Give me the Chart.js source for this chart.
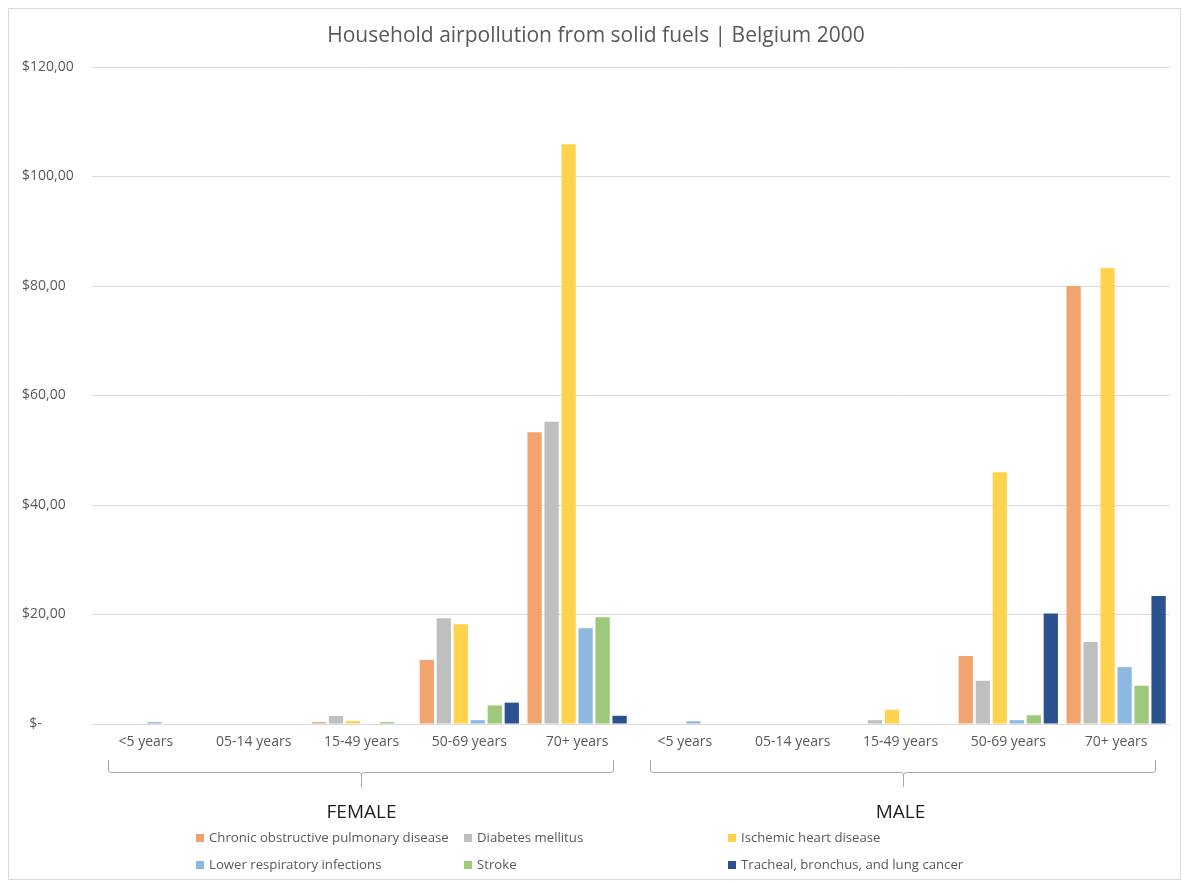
<!DOCTYPE html>
<html>
<head>
<meta charset="utf-8">
<title>Household airpollution from solid fuels | Belgium 2000</title>
<script src="https://cdn.jsdelivr.net/npm/chart.js@4/dist/chart.umd.min.js"></script>
<style>
  html, body { margin: 0; padding: 0; background: #ffffff; }
  #wrap { position: absolute; left: 0; top: 0; width: 1188px; height: 884px; }
</style>
</head>
<body>
<div id="wrap"><canvas id="chart" width="1188" height="884"></canvas></div>
<script>
// Age groups, repeated once per sex on the inner category axis
const ageGroups = ['<5 years', '05-14 years', '15-49 years', '50-69 years', '70+ years'];
const sexes = ['FEMALE', 'MALE'];

// Costs per cause of death (female age groups first, then male)
const copd       = [0,    0, 0.35, 11.7,  53.3, 0,   0, 0,   12.4, 80.0];
const diabetes   = [0,    0, 1.45, 19.3,  55.2, 0,   0, 0.7,  7.9, 15.0];
const ihd        = [0,    0, 0.55, 18.2, 105.9, 0,   0, 2.6, 46.0, 83.3];
const lri        = [0.35, 0, 0,     0.7,  17.5, 0.5, 0, 0,    0.7, 10.4];
const stroke     = [0,    0, 0.35,  3.4,  19.5, 0,   0, 0,    1.6,  7.0];
const lungCancer = [0,    0, 0,     3.9,   1.5, 0,   0, 0,   20.2, 23.4];

const seriesNames = [
  'Chronic obstructive pulmonary disease',
  'Diabetes mellitus',
  'Ischemic heart disease',
  'Lower respiratory infections',
  'Stroke',
  'Tracheal, bronchus, and lung cancer'
];
const seriesValues = [copd, diabetes, ihd, lri, stroke, lungCancer];
const seriesColors = ['#F2A46F', '#BFBFBF', '#FFD34E', '#8DB9E1', '#9DC97A', '#2C5190'];

const FONT = "'Open Sans', 'Liberation Sans', sans-serif";
const TEXT_GRAY = '#595959';

const categoryLabels = sexes.flatMap(() => ageGroups);

// Outer frame around the whole chart
const framePlugin = {
  id: 'frame',
  beforeDraw(chart) {
    const ctx = chart.ctx;
    ctx.save();
    ctx.fillStyle = '#ffffff';
    ctx.fillRect(0, 0, chart.width, chart.height);
    ctx.strokeStyle = '#d9d9d9';
    ctx.lineWidth = 1;
    ctx.strokeRect(8.5, 8.5, chart.width - 16, chart.height - 13);
    ctx.restore();
  }
};

// Brace-style brackets grouping the age categories under each sex
const bracketPlugin = {
  id: 'brackets',
  afterDraw(chart) {
    const x = chart.scales.x;
    const ctx = chart.ctx;
    const n = ageGroups.length;
    const catW = (x.right - x.left) / categoryLabels.length;
    const yTop = x.bottom - 4;
    const yLine = yTop + 12;
    const yTip = yLine + 15;
    const insets = [[16, 17], [19, 14]];
    ctx.save();
    ctx.strokeStyle = '#a6a6a6';
    ctx.lineWidth = 1;
    sexes.forEach((s, i) => {
      const start = x.left + i * n * catW + insets[i][0];
      const end = x.left + (i + 1) * n * catW - insets[i][1];
      const mid = Math.round((start + end) / 2) + 0.5;
      const r = 3;
      ctx.beginPath();
      ctx.moveTo(start + 0.5, yTop);
      ctx.lineTo(start + 0.5, yLine - r);
      ctx.quadraticCurveTo(start + 0.5, yLine + 0.5, start + r, yLine + 0.5);
      ctx.lineTo(mid - r, yLine + 0.5);
      ctx.quadraticCurveTo(mid, yLine + 0.5, mid, yLine + r);
      ctx.lineTo(mid, yTip);
      ctx.moveTo(mid, yLine + r);
      ctx.quadraticCurveTo(mid, yLine + 0.5, mid + r, yLine + 0.5);
      ctx.lineTo(end - r, yLine + 0.5);
      ctx.quadraticCurveTo(end - 0.5, yLine + 0.5, end - 0.5, yLine - r);
      ctx.lineTo(end - 0.5, yTop);
      ctx.stroke();
    });
    ctx.restore();
  }
};

// Legend laid out in a fixed three-column grid below the axes
const gridLegendPlugin = {
  id: 'gridLegend',
  afterDraw(chart) {
    const ctx = chart.ctx;
    const colX = [196, 464, 728];
    const rowY = [838, 865];
    const box = 8;
    ctx.save();
    ctx.font = '13.2px ' + FONT;
    ctx.textBaseline = 'middle';
    ctx.textAlign = 'left';
    chart.data.datasets.forEach((ds, i) => {
      const cx = colX[i % 3];
      const cy = rowY[Math.floor(i / 3)];
      ctx.fillStyle = ds.backgroundColor;
      ctx.fillRect(cx, cy - box / 2, box, box);
      ctx.fillStyle = TEXT_GRAY;
      ctx.fillText(ds.label, cx + 13, cy);
    });
    ctx.restore();
  }
};

const datasets = seriesNames.map((name, i) => ({
  label: name,
  data: seriesValues[i],
  backgroundColor: seriesColors[i],
  borderWidth: 0,
  categoryPercentage: 0.946,
  barPercentage: 0.84
}));

function money(v) {
  if (v === 0) return '  $-';
  return '$' + v.toFixed(2).replace('.', ',');
}

new Chart(document.getElementById('chart'), {
  type: 'bar',
  data: { labels: categoryLabels, datasets },
  options: {
    responsive: false,
    animation: false,
    layout: { padding: { left: 22, right: 18, top: 0, bottom: 60 } },
    plugins: {
      legend: { display: false },
      tooltip: { enabled: false },
      title: {
        display: true,
        text: 'Household airpollution from solid fuels | Belgium 2000',
        color: TEXT_GRAY,
        font: { family: FONT, size: 21, weight: 'normal' },
        padding: { top: 23, bottom: 18.8 }
      }
    },
    scales: {
      y: {
        min: 0,
        max: 120,
        ticks: {
          stepSize: 20,
          crossAlign: 'far',
          color: TEXT_GRAY,
          font: { family: FONT, size: 14 },
          callback: (v) => money(v)
        },
        grid: { color: '#d9d9d9', lineWidth: 1, drawTicks: false, tickLength: 0 },
        border: { display: false },
        afterFit(scale) { scale.width = 70; }
      },
      x: {
        weight: 0,
        ticks: {
          color: TEXT_GRAY,
          font: { family: FONT, size: 14 },
          padding: 10,
          maxRotation: 0,
          autoSkip: false
        },
        grid: { display: false, drawTicks: false, tickLength: 0 },
        border: { display: false },
        afterFit(scale) { scale.height = 40; }
      },
      x2: {
        type: 'category',
        position: 'bottom',
        weight: 1,
        labels: sexes,
        offset: true,
        ticks: {
          color: '#1f1f1f',
          font: { family: FONT, size: 19 },
          padding: 37,
          maxRotation: 0,
          autoSkip: false
        },
        grid: { display: false, drawTicks: false, tickLength: 0 },
        border: { display: false },
        afterFit(scale) { scale.height = 60; }
      }
    }
  },
  plugins: [framePlugin, bracketPlugin, gridLegendPlugin]
});
</script>
</body>
</html>
